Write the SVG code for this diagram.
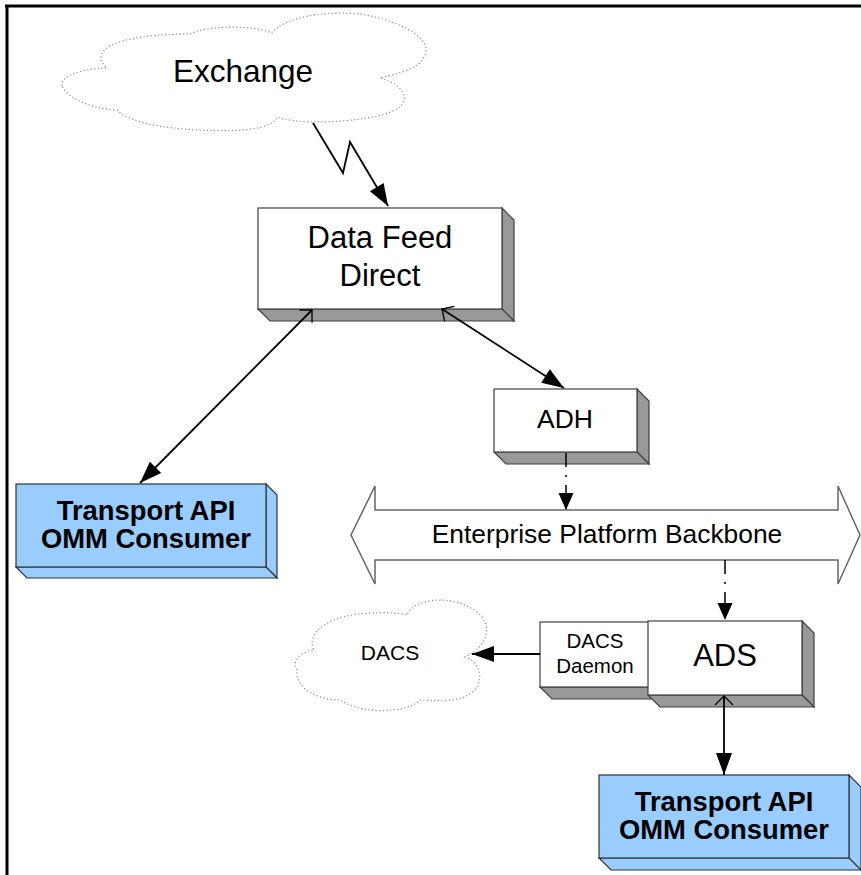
<svg xmlns="http://www.w3.org/2000/svg" width="861" height="875" viewBox="0 0 861 875">
<style>
.face{fill:#ffffff;stroke:#404040;stroke-width:1.2}
.side{fill:#999999;stroke:#404040;stroke-width:1.2}
.bface{fill:#99ccff;stroke:#333333;stroke-width:1.2}
.bside{fill:#99ccff;stroke:#333333;stroke-width:1.2}
.cloud{fill:#ffffff;stroke:#8a8a8a;stroke-width:1.2;stroke-dasharray:1.2 2.4}
.t{font-family:"Liberation Sans",Arial,sans-serif;fill:#000;text-anchor:middle}
.tb{font-family:"Liberation Sans",Arial,sans-serif;fill:#000;text-anchor:middle;font-weight:bold}
.conn{fill:none;stroke:#000;stroke-width:1.8}
.dd{fill:none;stroke:#000;stroke-width:1.5;stroke-dasharray:14 8 2 8}
</style>
<defs>
<marker id="arr" markerUnits="userSpaceOnUse" markerWidth="24" markerHeight="18" refX="22" refY="8" orient="auto" overflow="visible">
<path d="M0,0 L22,8 L0,16 Z" fill="#000"/>
</marker>
<marker id="arrS" markerUnits="userSpaceOnUse" markerWidth="18" markerHeight="16" refX="17" refY="7.5" orient="auto" overflow="visible">
<path d="M0,0 L17,7.5 L0,15 Z" fill="#000"/>
</marker>
<marker id="open" markerUnits="userSpaceOnUse" markerWidth="12" markerHeight="20" refX="10" refY="10" orient="auto-start-reverse" overflow="visible">
<path d="M1,1 L10,10 L1,19" fill="none" stroke="#000" stroke-width="1.3"/>
</marker>
</defs>

<g id="frame">
<line x1="5" y1="6" x2="861" y2="6" stroke="#000" stroke-width="3"/>
<line x1="7" y1="5" x2="7" y2="875" stroke="#000" stroke-width="3"/>
</g>

<g id="exchange">
<path class="cloud" d="M62,86 C60,76 80,69 107,68 C88,52 112,34 190,34 C205,26 250,24 272,33 C285,15 340,8 375,17 C405,24 432,40 425,55 C420,70 395,74 380,78 C405,85 410,100 398,108 C385,118 345,122 313,122 C300,122 285,120 278,117 C270,130 240,132 200,130 C160,128 128,122 117,110 C90,108 70,100 62,86 Z"/>
<text class="t" x="243" y="82" font-size="31.5">Exchange</text>
</g>

<g id="dfd">
<polygon class="side" points="502,208 514,220 514,321 502,309"/>
<polygon class="side" points="258,309 502,309 514,321 270,321"/>
<rect class="face" x="258" y="208" width="244" height="101"/>
<text class="t" x="380" y="248" font-size="31">Data Feed</text>
<text class="t" x="380" y="286" font-size="31">Direct</text>
</g>

<g id="adh">
<polygon class="side" points="637,389 649,401 649,464 637,452"/>
<polygon class="side" points="494,452 637,452 649,464 506,464"/>
<rect class="face" x="494" y="389" width="143" height="63"/>
<text class="t" x="565" y="428" font-size="26.5">ADH</text>
</g>

<g id="backbone">
<polygon points="351,535 375,486 375,510 838,510 838,486 860,535 838,584 838,560 375,560 375,584" fill="#fff" stroke="#666" stroke-width="1.5"/>
<text class="t" x="607" y="543" font-size="26.4">Enterprise Platform Backbone</text>
</g>

<g id="consumer-left">
<polygon class="bside" points="266,484 277,495 277,578 266,567"/>
<polygon class="bside" points="16,567 266,567 277,578 27,578"/>
<rect class="bface" x="16" y="484" width="250" height="83"/>
<text class="tb" x="146" y="520" font-size="27.4">Transport API</text>
<text class="tb" x="146" y="548" font-size="27.4">OMM Consumer</text>
</g>

<g id="dacs">
<path class="cloud" d="M297,670 C290,660 305,650 314,650 C305,632 330,614 373,613 C385,612 400,613 407,615 C412,600 450,592 477,612 C492,624 490,645 465,657 C482,662 485,685 470,694 C458,702 435,701 420,700 C410,712 365,716 340,700 C320,700 295,690 297,670 Z"/>
<text class="t" x="390" y="660" font-size="21">DACS</text>
</g>

<g id="dacs-daemon">
<polygon class="side" points="540,687 660,687 672,699 552,699"/>
<rect class="face" x="540" y="622" width="120" height="65"/>
<text class="t" x="595" y="648" font-size="20.5">DACS</text>
<text class="t" x="595" y="673" font-size="20.5">Daemon</text>
</g>

<g id="ads">
<polygon class="side" points="802,621 814,633 814,707 802,695"/>
<polygon class="side" points="648,695 802,695 814,707 660,707"/>
<rect class="face" x="648" y="621" width="154" height="74"/>
<text class="t" x="725" y="666" font-size="31">ADS</text>
</g>

<g id="consumer-right">
<polygon class="bside" points="849,775 861,787 861,870 849,858"/>
<polygon class="bside" points="599,858 849,858 861,870 611,870"/>
<rect class="bface" x="599" y="775" width="250" height="83"/>
<text class="tb" x="724" y="811" font-size="27.4">Transport API</text>
<text class="tb" x="724" y="839" font-size="27.4">OMM Consumer</text>
</g>

<g id="connectors">
<polyline class="conn" points="313,123 343,173 350,142 388,206" marker-end="url(#arr)"/>
<line class="conn" x1="312" y1="310" x2="140" y2="483" marker-start="url(#open)" marker-end="url(#arr)"/>
<line class="conn" x1="442" y1="309" x2="564" y2="388" marker-start="url(#open)" marker-end="url(#arr)"/>
<line class="dd" x1="566" y1="453" x2="566" y2="510" marker-end="url(#arrS)"/>
<line class="dd" x1="725" y1="560" x2="725" y2="620" marker-end="url(#arrS)"/>
<line class="conn" x1="724" y1="696" x2="724" y2="775" marker-start="url(#open)" marker-end="url(#arr)"/>
<line class="conn" x1="540" y1="654" x2="472" y2="654" marker-end="url(#arr)"/>
</g>
</svg>
